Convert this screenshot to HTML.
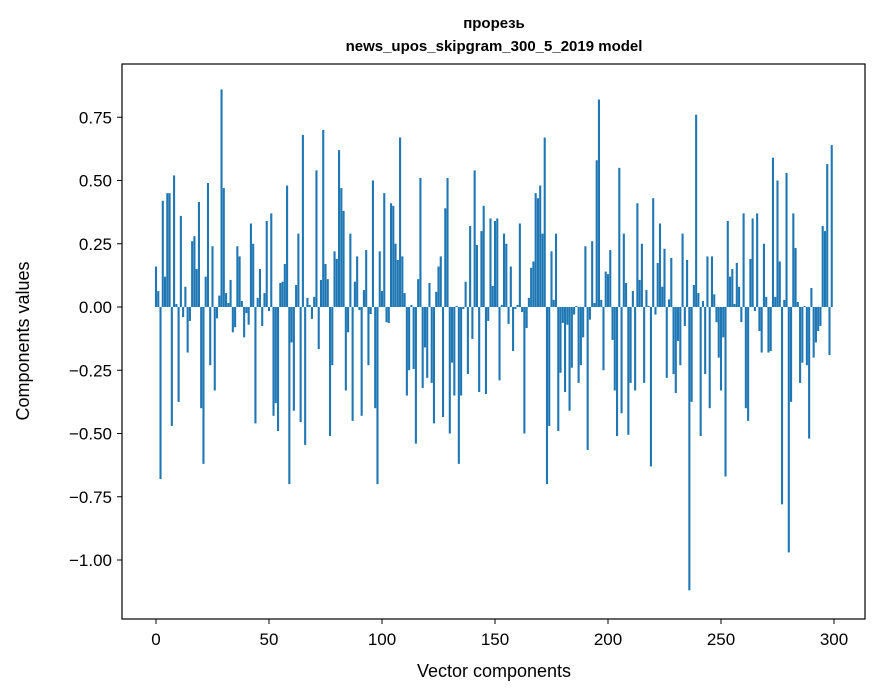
<!DOCTYPE html>
<html><head><meta charset="utf-8"><style>
html,body{margin:0;padding:0;background:#fff}
svg{display:block;font-family:"Liberation Sans","DejaVu Sans",sans-serif}
</style></head><body>
<svg id="chart" width="880" height="696" viewBox="0 0 880 696">
<rect width="880" height="696" fill="#fff"/>
<text x="494" y="28" text-anchor="middle" font-size="15" font-weight="bold">прорезь</text>
<text x="494" y="51" text-anchor="middle" font-size="15" font-weight="bold">news_upos_skipgram_300_5_2019 model</text>
<g id="bars"></g>
<g id="xticks"></g>
<g id="yticks"></g>
<rect x="122" y="64" width="743" height="555" fill="none" stroke="#000" stroke-width="1.2"/>
<text x="494" y="677" text-anchor="middle" font-size="18">Vector components</text>
<text transform="translate(29,341) rotate(-90)" text-anchor="middle" font-size="18">Components values</text>
</svg>
<script>
const values = [
0.16,0.063,-0.68,0.42,0.12,0.45,0.45,-0.47,0.52,0.012,
-0.375,0.36,-0.04,0.08,-0.18,-0.055,0.26,0.28,0.15,0.415,
-0.40,-0.62,0.12,0.49,-0.23,0.24,-0.33,-0.045,0.045,0.86,
0.47,0.055,0.016,0.107,-0.10,-0.08,0.24,0.2,0.024,-0.12,
-0.024,-0.07,0.33,0.25,-0.46,0.036,0.15,-0.075,0.055,0.34,
-0.016,0.37,-0.43,-0.38,-0.49,0.095,0.1,0.17,0.48,-0.70,
-0.14,-0.41,0.087,0.29,-0.455,0.68,-0.545,0.036,0.008,-0.047,
0.04,0.54,-0.166,0.107,0.70,0.17,0.11,-0.51,-0.23,0.22,
0.19,0.62,0.47,0.38,-0.33,-0.1,0.29,-0.45,0.10,0.2,
-0.012,-0.43,0.067,0.225,-0.23,-0.028,0.50,-0.40,-0.70,0.22,
0.063,0.45,-0.06,-0.063,0.41,0.40,0.25,0.186,0.67,0.2,
0.055,-0.35,-0.25,0.008,-0.245,-0.54,0.11,0.51,-0.32,-0.16,
-0.28,0.095,-0.30,-0.46,0.06,0.16,0.2,-0.435,0.39,0.51,
-0.50,-0.22,-0.35,0.004,-0.62,-0.35,-0.008,0.1,-0.265,0.32,
-0.126,0.54,0.245,-0.336,0.30,0.40,-0.344,-0.055,0.35,0.083,
0.34,0.35,-0.29,0.008,0.29,0.25,-0.067,0.16,-0.174,-0.008,
0.008,0.33,-0.02,-0.5,-0.083,0.036,0.155,0.18,0.45,0.43,
0.48,0.29,0.67,-0.70,-0.47,0.22,0.028,0.29,-0.49,-0.26,
-0.063,-0.336,-0.07,-0.41,-0.24,-0.03,0.004,-0.30,-0.23,-0.12,
0.24,-0.565,-0.05,0.26,0.016,0.58,0.82,0.028,-0.25,0.14,
0.13,0.225,-0.13,-0.33,-0.51,0.55,-0.42,0.29,0.095,-0.505,
-0.30,0.063,-0.33,0.41,0.107,0.25,-0.30,0.067,0.004,-0.63,
0.43,-0.03,0.174,0.33,0.08,0.23,-0.28,0.03,0.194,-0.265,
-0.34,-0.134,-0.23,0.29,-0.075,0.186,-1.12,-0.375,0.087,0.76,
0.055,-0.51,0.024,-0.265,0.2,-0.40,0.2,0.05,-0.06,-0.2,
-0.33,-0.12,-0.67,0.34,0.12,0.15,0.012,0.174,0.08,-0.06,
0.37,-0.40,-0.45,0.19,0.35,-0.016,0.37,-0.095,-0.18,0.25,
0.04,-0.18,-0.174,0.59,0.04,0.50,0.18,-0.78,0.028,0.53,
-0.97,-0.375,0.37,0.233,0.02,-0.30,-0.22,0.004,-0.23,-0.52,
0.075,-0.2,-0.14,-0.095,-0.075,0.32,0.30,0.565,-0.19,0.64
];
const xTickValues = [0,50,100,150,200,250,300];
const yTickValues = [0.75,0.5,0.25,0,-0.25,-0.5,-0.75,-1.0];
const yTickLabels = ["0.75","0.50","0.25","0.00","\u22120.25","\u22120.50","\u22120.75","\u22121.00"];

const NS = "http://www.w3.org/2000/svg";
function xScale(v){ return 156 + 2.26 * v; }
function yScale(v){ return 307 - 253 * v; }
const barW = 2.1;

const gb = document.getElementById('bars');
values.forEach((v, i) => {
  const r = document.createElementNS(NS, 'rect');
  const y0 = yScale(0), y1 = yScale(v);
  r.setAttribute('x', xScale(i) - barW / 2);
  r.setAttribute('y', Math.min(y0, y1));
  r.setAttribute('width', barW);
  r.setAttribute('height', Math.max(Math.abs(y1 - y0), 0.3));
  r.setAttribute('fill', '#1f77b4');
  
  
  gb.appendChild(r);
});

const gx = document.getElementById('xticks');
xTickValues.forEach(t => {
  const x = xScale(t);
  const l = document.createElementNS(NS, 'line');
  l.setAttribute('x1', x); l.setAttribute('x2', x);
  l.setAttribute('y1', 619); l.setAttribute('y2', 624);
  l.setAttribute('stroke', '#000');
  
  
  gx.appendChild(l);
  const tx = document.createElementNS(NS, 'text');
  tx.setAttribute('x', x); tx.setAttribute('y', 645);
  tx.setAttribute('text-anchor', 'middle');
  tx.setAttribute('font-size', '17');
  tx.textContent = String(t);
  
  
  gx.appendChild(tx);
});

const gy = document.getElementById('yticks');
yTickValues.forEach((t, k) => {
  const y = yScale(t);
  const l = document.createElementNS(NS, 'line');
  l.setAttribute('x1', 117); l.setAttribute('x2', 122);
  l.setAttribute('y1', y); l.setAttribute('y2', y);
  l.setAttribute('stroke', '#000');
  
  
  gy.appendChild(l);
  const tx = document.createElementNS(NS, 'text');
  tx.setAttribute('x', 112); tx.setAttribute('y', y + 6);
  tx.setAttribute('text-anchor', 'end');
  tx.setAttribute('font-size', '17');
  tx.textContent = yTickLabels[k];
  
  
  gy.appendChild(tx);
});
</script>
</body></html>
